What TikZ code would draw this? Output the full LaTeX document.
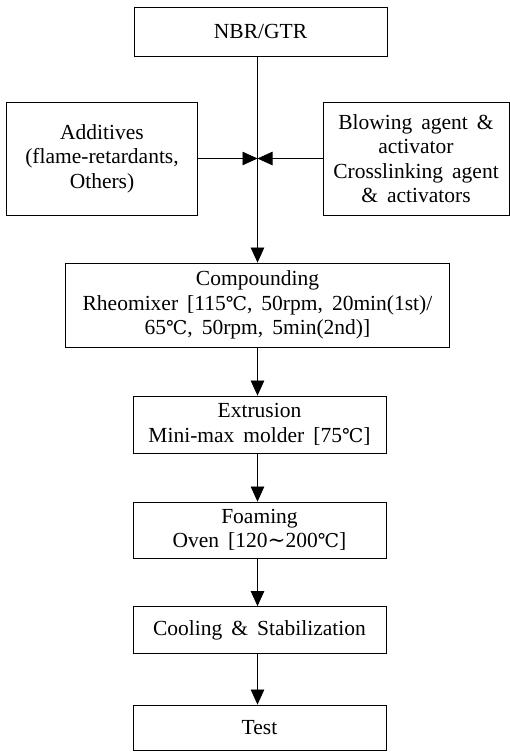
\documentclass[tikz,border=0pt]{standalone}
\usepackage{fontspec}
\setmainfont{Liberation Serif}
\newfontfamily\symfont{DejaVu Serif}
\usetikzlibrary{arrows.meta}
\newcommand{\degc}{{\symfont\fontsize{19}{19}\selectfont ℃}}
\newcommand{\wave}{{\symfont ∼}}

\begin{document}
\begin{tikzpicture}[x=1pt,y=-1pt,
  box/.style={draw,line width=0.8pt,inner sep=0pt,align=center,
    font={\fontsize{21.5}{24.5}\selectfont\spaceskip=0.42em\relax}},
  arr/.style={line width=0.7pt,-{Triangle[length=15pt,width=13.5pt]}}]
\useasboundingbox (0,0) rectangle (510,752);
\node[box,minimum width=253pt,minimum height=49pt] (nbr) at (260.5,31.5) {NBR/GTR};
\node[box,minimum width=191pt,minimum height=113pt] (add) at (102,158.5) {Additives\\(flame-retardants,\\Others)};
\node[box,minimum width=186pt,minimum height=113pt] (blow) at (416,158.5) {Blowing agent \&\\activator\\Crosslinking agent\\\& activators};
\node[box,minimum width=384pt,minimum height=84pt] (comp) at (257.5,305) {Compounding\\Rheomixer [115\degc, 50rpm, 20min(1st)/\\65\degc, 50rpm, 5min(2nd)]};
\node[box,minimum width=253pt,minimum height=57pt] (extr) at (259.5,424.5) {Extrusion\\Mini-max molder [75\degc]};
\node[box,minimum width=253pt,minimum height=56pt] (foam) at (259.5,530) {Foaming\\Oven [120\wave200\degc]};
\node[box,minimum width=253pt,minimum height=47pt] (cool) at (259.5,630) {Cooling \& Stabilization};
\node[box,minimum width=253pt,minimum height=45pt] (test) at (259.5,727.5) {Test};
\coordinate (jn) at (comp.north |- add.east);
\draw[arr] (comp.north |- nbr.south) -- (comp.north);
\draw[arr] (add.east) -- (jn);
\draw[arr] (blow.west) -- (jn);
\draw[arr] (comp.south) -- (comp.south |- extr.north);
\draw[arr] (comp.south |- extr.south) -- (comp.south |- foam.north);
\draw[arr] (comp.south |- foam.south) -- (comp.south |- cool.north);
\draw[arr] (comp.south |- cool.south) -- (comp.south |- test.north);
\end{tikzpicture}
\end{document}
